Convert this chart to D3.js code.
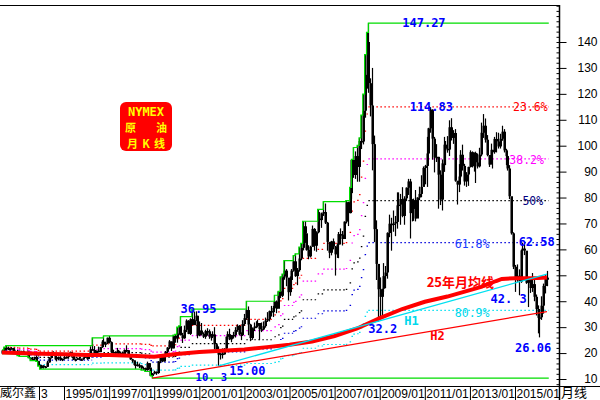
<!DOCTYPE html>
<html><head><meta charset="utf-8">
<script src="https://cdn.jsdelivr.net/npm/d3@7"></script>
<style>body{margin:0;background:#fff}svg{display:block}</style>
</head><body>
<svg id="c" width="600" height="400"></svg>
<script>
// ---- data (NYMEX crude oil, monthly, 1992/04 - 2016/06) ----
const startMonth = "1992-04";
const closes = [
21.0,22.1,21.9,21.8,21.6,21.9,20.6,19.9,19.5,
20.3,20.6,20.4,20.3,19.6,18.2,17.6,17.8,18.5,16.9,15.2,14.2,
15.2,14.8,14.7,16.4,18.3,19.1,19.7,17.6,18.4,18.2,17.3,17.8,
18.4,18.5,19.2,20.4,18.9,17.4,17.6,18.0,17.5,17.6,18.2,19.6,
17.7,19.5,21.5,21.2,19.8,20.9,20.4,22.3,24.4,23.4,23.8,25.9,
24.2,20.3,20.4,19.9,20.9,19.8,20.1,19.6,21.2,21.1,19.2,17.6,
17.2,15.4,15.6,15.3,15.2,14.2,14.2,13.4,16.1,14.4,11.2,12.1,
12.8,12.3,16.8,18.7,16.8,19.3,20.5,22.1,24.5,21.8,26.6,25.6,
27.6,30.4,26.9,25.7,29.0,32.5,27.4,33.1,30.8,32.7,34.4,26.8,
28.7,27.4,26.3,28.5,28.4,26.3,26.4,27.2,23.4,21.2,19.4,19.8,
19.5,21.7,26.3,27.3,25.3,26.9,27.0,28.9,30.5,27.2,26.9,31.2,
33.5,36.6,31.0,25.8,29.6,30.2,30.5,31.6,29.2,29.1,30.4,32.5,
33.1,36.2,35.8,37.4,39.9,37.1,43.8,42.1,49.6,51.8,49.1,43.5,
48.2,51.8,55.4,49.7,52.0,56.5,60.6,68.9,66.2,59.8,57.3,61.0,
67.9,61.4,66.6,71.9,71.3,73.9,74.4,70.3,62.9,58.7,63.1,61.1,
58.1,61.8,65.9,65.7,64.0,70.7,78.2,74.0,81.7,94.5,88.7,96.0,
91.8,101.8,101.6,113.5,127.4,140.0,124.1,115.5,100.6,67.8,54.4,44.6,
41.7,44.8,49.7,51.1,66.3,69.9,69.5,70.0,70.6,77.0,77.3,79.4,
72.9,79.7,83.8,86.2,74.0,75.6,79.0,71.9,80.0,81.4,84.1,91.4,
92.2,97.0,106.7,113.9,102.7,95.4,95.7,88.8,79.2,93.2,100.4,98.8,
98.5,107.1,103.0,104.9,86.5,85.0,88.1,96.5,92.2,86.2,88.9,91.8,
97.5,92.1,97.2,93.5,92.0,96.6,105.0,107.7,102.3,96.4,92.7,98.4,
97.5,102.6,101.6,99.7,102.7,105.4,98.2,96.0,91.2,80.5,66.2,53.3,
48.2,49.8,47.6,59.6,60.3,59.5,47.1,49.2,45.1,46.6,41.7,37.0,
33.6,33.8,38.3,45.9,49.1,48.3];
const highs = [
21.2,22.3,22.9,22.5,21.9,22.3,22.0,21.0,20.3,
20.5,20.9,20.8,20.6,20.4,19.5,18.3,18.5,18.6,19.0,17.0,15.5,
15.5,15.3,15.0,17.0,18.4,20.0,20.7,19.8,18.6,18.7,18.8,17.9,
18.9,18.8,19.3,20.6,20.4,19.0,17.9,18.3,18.6,17.9,18.3,19.8,
19.8,19.9,22.6,25.9,22.7,21.0,22.5,22.4,25.0,26.6,24.4,26.0,
26.6,24.5,21.3,20.7,22.0,21.2,20.6,20.6,21.4,23.0,21.1,19.3,
17.8,17.1,16.7,16.7,16.0,15.3,14.8,14.4,16.7,16.1,14.2,12.3,
13.2,12.9,16.9,19.0,19.0,19.4,20.8,22.3,25.0,24.5,26.9,27.2,
30.0,30.5,34.1,27.8,30.6,33.0,32.7,33.4,36.95,36.0,36.1,34.0,
32.2,31.6,28.0,29.0,29.6,29.1,27.4,28.4,30.0,23.7,22.6,20.0,
21.8,21.9,26.4,28.4,29.4,27.0,28.2,30.0,31.1,30.8,28.0,32.7,
35.1,39.99,38.0,31.3,29.9,31.8,32.3,32.9,30.3,31.8,32.2,33.7,
35.8,36.4,38.2,38.2,42.3,40.3,43.8,49.4,50.5,55.7,52.4,46.3,
49.6,52.4,57.6,58.3,52.8,60.9,62.3,70.85,70.8,66.0,61.6,61.4,
69.2,68.2,67.0,75.4,74.4,74.2,78.4,77.7,70.6,62.8,63.3,64.2,
61.3,62.3,66.7,68.1,67.1,70.8,78.8,78.4,83.9,94.7,99.3,97.8,
100.1,103.0,111.8,119.9,135.1,143.7,147.27,126.0,130.0,103.9,71.2,54.2,
49.2,44.8,54.7,53.6,66.6,73.4,72.2,75.0,72.9,82.0,82.0,81.4,
84.0,80.5,83.9,87.2,87.2,79.4,79.6,82.9,80.1,84.2,88.6,92.0,
92.6,103.4,106.9,114.83,114.0,103.4,100.6,95.7,90.5,94.7,103.4,101.8,
103.7,109.8,110.6,106.0,106.4,86.0,92.9,98.3,100.4,93.0,89.8,91.9,
98.2,97.8,97.4,97.7,97.0,99.2,108.9,112.2,110.5,104.1,95.6,100.8,
98.3,103.4,105.2,105.0,104.6,107.7,106.4,98.8,96.2,92.5,79.6,66.6,
54.0,54.2,52.3,59.9,62.58,61.8,59.1,49.3,48.4,50.9,48.4,42.6,
38.4,34.8,41.9,46.8,50.2,51.7];
const lows = [
19.8,20.7,21.5,21.2,21.0,21.4,20.5,19.8,19.0,
18.7,19.7,19.8,19.9,19.5,18.1,17.1,17.5,17.2,16.8,15.0,13.8,
14.0,14.0,14.1,14.6,16.3,17.9,18.9,17.4,16.8,17.2,17.1,16.9,
17.5,17.9,17.8,19.2,18.6,17.3,16.8,17.4,17.3,17.1,17.4,18.2,
17.4,17.8,19.3,21.0,19.2,19.5,20.2,20.4,22.0,23.1,22.3,23.5,
23.7,20.1,19.8,19.2,19.8,18.6,19.0,19.2,19.2,20.3,19.0,17.4,
16.3,15.2,13.9,14.8,14.2,13.4,13.5,12.9,13.2,13.8,11.2,10.3,
11.8,11.6,12.0,16.1,16.5,16.7,19.0,19.6,21.5,20.8,21.8,24.0,
24.0,27.1,26.8,23.9,25.5,28.1,27.3,27.0,31.0,30.8,32.4,25.7,
26.5,26.8,25.8,25.5,26.7,25.5,24.8,25.8,21.4,20.2,15.0,17.5,
17.9,19.4,21.3,24.8,25.0,24.2,25.6,26.0,28.2,26.8,25.0,26.8,
30.5,32.8,26.9,24.6,25.1,28.5,29.6,30.3,25.0,28.1,28.9,29.8,
32.0,32.2,34.1,33.9,37.3,35.4,37.4,41.2,41.6,48.3,45.8,40.3,
42.1,45.3,51.4,49.4,46.2,51.4,55.8,59.6,62.5,59.5,56.2,56.9,
61.1,59.5,59.1,66.2,68.9,68.3,72.9,69.8,59.5,56.6,57.7,60.0,
49.9,56.7,56.6,61.9,61.5,64.0,70.0,69.0,73.9,79.5,87.6,87.2,
86.1,86.1,98.7,100.5,110.8,122.0,120.4,111.3,90.5,62.8,48.2,32.2,
33.6,34.0,43.6,45.0,48.7,64.7,59.5,66.8,65.1,68.0,75.2,69.5,
72.4,69.5,78.6,81.0,64.2,70.8,71.0,70.8,72.6,79.0,80.1,86.5,
85.1,84.1,96.7,105.0,94.6,89.7,93.7,75.7,77.1,75.0,89.9,92.5,
97.3,96.0,102.0,100.7,86.1,77.3,82.1,87.5,90.4,84.6,84.1,84.5,
91.6,91.6,90.0,85.6,91.2,91.6,95.9,103.0,101.2,95.9,91.8,92.9,
91.2,96.9,97.4,98.9,98.9,101.9,97.4,92.5,90.4,79.4,65.7,52.4,
43.6,47.5,42.3,47.1,56.5,57.8,46.7,37.75,43.2,43.6,40.0,34.5,
27.6,26.06,32.8,35.2,43.0,45.8];

// 25-year monthly moving average
const maDates  = ["1992-04","1994-01","1995-01","1996-01","1997-01","1998-01","1999-01","2000-01","2001-01","2002-01","2003-01","2004-01","2005-01","2006-01","2007-01","2008-01","2009-01","2010-01","2011-01","2012-01","2013-01","2013-07","2014-03","2014-06","2015-01","2016-01","2016-06"];
const maValues = [20.2,19.7,19.5,19.3,19.3,19.0,18.6,19.6,20.4,20.9,21.4,22.3,23.2,24.5,26.6,29.5,33.5,37.0,39.8,41.8,44.3,45.5,47.8,48.6,48.9,49.0,49.2];

// trend lines
const h1Dates = ["2001-11","2016-06"], h1Values = [15.0, 50.5];
const h2Dates = ["1998-12","2016-06"], h2Values = [10.3, 36.0];

// Fibonacci retracement levels
const fibRatios = [0.236, 0.382, 0.5, 0.618, 0.809];
const fibColors = ["#ff0000", "#ff00ff", "#000000", "#0000dd", "#00e0f0"];

// axes
const yTicks = [10,20,30,40,50,60,70,80,90,100,110,120,130,140];
const xTickYears = ["1995-01","1997-01","1999-01","2001-01","2003-01","2005-01","2007-01","2009-01","2011-01","2013-01","2015-01"];

// annotations
const priceLabels = [
  {t:"147.27", d:"2010-01", v:147.3, c:"#0000ff", b:true, s:12},
  {t:"114.83", d:"2010-05", v:114.9, c:"#0000ff", b:true, s:12},
  {t:"36.95",  d:"2000-03", v:37.0,  c:"#0000ff", b:true, s:12},
  {t:"32.2",   d:"2008-07", v:29.4,  c:"#0000ff", b:true, s:12},
  {t:"15.00",  d:"2002-05", v:13.2,  c:"#0000ff", b:true, s:12},
  {t:"10. 3",  d:"2000-11", v:10.9,  c:"#0000ff", b:true, s:10.5},
  {t:"62.58",  d:"2015-03", v:62.7,  c:"#0000ff", b:true, s:12},
  {t:"26.06",  d:"2015-01", v:21.8,  c:"#0000ff", b:true, s:12},
  {t:"42. 3",  d:"2013-12", v:40.8,  c:"#0000ff", b:true, s:12},
  {t:"23.6%",  d:"2014-12", v:115.0, c:"#ff0000", b:false, s:11.5},
  {t:"38.2%",  d:"2014-10", v:94.5,  c:"#ff00ff", b:false, s:11.5},
  {t:"50%",    d:"2015-05", v:78.6,  c:"#000080", b:false, s:11.5},
  {t:"61.8%",  d:"2012-05", v:62.0,  c:"#1a3cff", b:false, s:11.5},
  {t:"80.9%",  d:"2012-05", v:35.3,  c:"#00d8ec", b:false, s:11.5}
];

// ---- drawing ----
const svg = d3.select("#c");
const parse = d3.timeParse("%Y-%m");
const x = d3.scaleTime().domain([parse("1995-01"), parse("2015-01")]).range([64, 515]);
const y = d3.scaleLinear().domain([10, 140]).range([379, 42]);
const start = parse(startMonth);
const n = closes.length;
const dates = d3.range(n + 1).map(i => d3.timeMonth.offset(start, i));

svg.append("defs").append("clipPath").attr("id","pc").append("rect").attr("x",0).attr("y",5).attr("width",559).attr("height",381);
const plot = svg.append("g").attr("clip-path","url(#pc)");

// cumulative extremes
const cumMax = [], cumMin = [];
for (let i = 0; i < n; i++) {
  cumMax.push(i ? Math.max(cumMax[i-1], highs[i]) : highs[i]);
  cumMin.push(i ? Math.min(cumMin[i-1], lows[i]) : lows[i]);
}
const stepLine = d3.line().x(d => x(d[0])).y(d => y(d[1])).curve(d3.curveStepAfter);
const ext = arr => arr.map((v,i)=>[dates[i], v]).concat([[dates[n], arr[n-1]]]);

// retracement dotted lines: horizontal runs only
fibRatios.forEach((r, k) => {
  const lv = cumMax.map((m,i) => m - r * (m - cumMin[i]));
  const p = d3.path();
  let i = 0;
  while (i < n) {
    let j = i;
    while (j + 1 < n && Math.abs(lv[j+1] - lv[i]) < 1e-9) j++;
    p.moveTo(x(dates[i]), y(lv[i]));
    p.lineTo(x(dates[j+1]), y(lv[i]));
    i = j + 1;
  }
  plot.append("path").attr("d", p.toString()).attr("fill","none")
    .attr("stroke", fibColors[k]).attr("stroke-width",1.2).attr("stroke-dasharray","1.5,2.5");
});

// bars
const bars = plot.append("g");
for (let i = 0; i < n; i++) {
  const cx = Math.round(x(dates[i]));
  const o = i ? closes[i-1] : lows[i];
  bars.append("line").attr("x1",cx+0.5).attr("x2",cx+0.5).attr("y1",y(highs[i])).attr("y2",y(lows[i]))
    .attr("stroke","#000").attr("stroke-width",1.2);
  const top = y(Math.max(o, closes[i])), bot = y(Math.min(o, closes[i]));
  bars.append("rect").attr("x",cx-0.5).attr("width",2.5).attr("y",top).attr("height",Math.max(1.5, bot-top)).attr("fill","#000");
}

// green envelope
plot.append("path").attr("d", stepLine(ext(cumMax))).attr("fill","none").attr("stroke","#00dd00").attr("stroke-width",1.2);
plot.append("path").attr("d", stepLine(ext(cumMin))).attr("fill","none").attr("stroke","#00dd00").attr("stroke-width",1.2);

// MA
const line = d3.line().x(d => x(parse(d[0]))).y(d => y(d[1]));
plot.append("path").attr("d", line(maDates.map((d,i)=>[d, maValues[i]]))).attr("fill","none")
  .attr("stroke","#ff0000").attr("stroke-width",4);
// H1, H2
plot.append("path").attr("d", line(h1Dates.map((d,i)=>[d, h1Values[i]]))).attr("fill","none")
  .attr("stroke","#00e0f0").attr("stroke-width",1.3);
plot.append("path").attr("d", line(h2Dates.map((d,i)=>[d, h2Values[i]]))).attr("fill","none")
  .attr("stroke","#ff0000").attr("stroke-width",1.3);

// labels
const mono = "'DejaVu Sans Mono','Liberation Mono',monospace";
priceLabels.forEach(l => {
  svg.append("text").attr("x", x(parse(l.d))).attr("y", y(l.v) + 4)
    .attr("fill", l.c).attr("font-family", mono).attr("font-size", l.s)
    .attr("font-weight", l.b ? "bold" : "normal").text(l.t);
});
svg.append("text").attr("x", x(parse("2011-02"))).attr("y", y(47.3)+5).attr("fill","#ff0000")
  .attr("font-family","'Noto Sans CJK SC',sans-serif").attr("font-size",13).attr("font-weight","bold").text("25年月均线");
svg.append("text").attr("x", x(parse("2010-02"))).attr("y", y(32.8)+5).attr("fill","#00d8ec")
  .attr("font-family", mono).attr("font-size",12).attr("font-weight","bold").text("H1");
svg.append("text").attr("x", x(parse("2011-04"))).attr("y", y(26.8)+5).attr("fill","#ff0000")
  .attr("font-family", mono).attr("font-size",12).attr("font-weight","bold").text("H2");

// NYMEX box
const bx = svg.append("g").attr("transform","translate(120,102)");
bx.append("rect").attr("width",52).attr("height",49).attr("rx",6).attr("fill","#ff0000");
bx.append("text").attr("x",26).attr("y",13.5).attr("text-anchor","middle").attr("fill","#ffff00")
  .attr("font-family", mono).attr("font-size",12).attr("font-weight","bold").text("NYMEX");
bx.append("text").attr("x",5).attr("y",30).attr("fill","#ffff00").attr("textLength",42).attr("lengthAdjust","spacing")
  .attr("font-family","'Noto Sans CJK SC',sans-serif").attr("font-size",11).attr("font-weight","bold").text("原 油");
bx.append("text").attr("x",7).attr("y",46).attr("fill","#ffff00").attr("textLength",38).attr("lengthAdjust","spacing")
  .attr("font-family","'Noto Sans CJK SC',sans-serif").attr("font-size",11).attr("font-weight","bold").text("月K线");

// frame
svg.append("line").attr("x1",0).attr("x2",559).attr("y1",5.5).attr("y2",5.5).attr("stroke","#000");
svg.append("line").attr("x1",0).attr("x2",600).attr("y1",386.5).attr("y2",386.5).attr("stroke","#000");
svg.append("line").attr("x1",559.5).attr("x2",559.5).attr("y1",5).attr("y2",400).attr("stroke","#000").attr("stroke-width",1.5);

// right axis
const ra = svg.append("g").attr("transform","translate(559.5,0)")
  .call(d3.axisRight(y).tickValues(yTicks).tickSize(7).tickFormat(d3.format("d")));
ra.select(".domain").remove();
ra.selectAll("text").attr("x",38).attr("text-anchor","end")
  .attr("font-family","'Liberation Sans',Arial,sans-serif").attr("font-size",12).attr("fill","#000");
const minor = svg.append("g").attr("transform","translate(559.5,0)")
  .call(d3.axisLeft(y).tickValues(d3.range(8, 155, 2)).tickSize(3).tickFormat(""));
minor.select(".domain").remove();

// bottom axis
const ba = svg.append("g").attr("transform","translate(0,386)")
  .call(d3.axisBottom(x).tickValues(xTickYears.map(parse)).tickSize(14).tickFormat(d3.timeFormat("%Y/%m")));
ba.select(".domain").remove();
ba.selectAll("text").attr("x",1).attr("y",12).attr("dy",0).attr("text-anchor","start")
  .attr("font-family","'Liberation Sans',Arial,sans-serif").attr("font-size",12).attr("fill","#000");

svg.append("text").attr("x",0).attr("y",397).attr("font-family","'Noto Sans CJK SC',sans-serif").attr("font-size",12).text("威尔鑫");
svg.append("line").attr("x1",39.5).attr("x2",39.5).attr("y1",386).attr("y2",400).attr("stroke","#000");
svg.append("text").attr("x",41).attr("y",398).attr("font-family","'Liberation Sans',Arial,sans-serif").attr("font-size",12).text("3");
svg.append("text").attr("x",561).attr("y",397).attr("font-family","'Noto Sans CJK SC',sans-serif").attr("font-size",13).text("月线");
</script>
</body></html>
